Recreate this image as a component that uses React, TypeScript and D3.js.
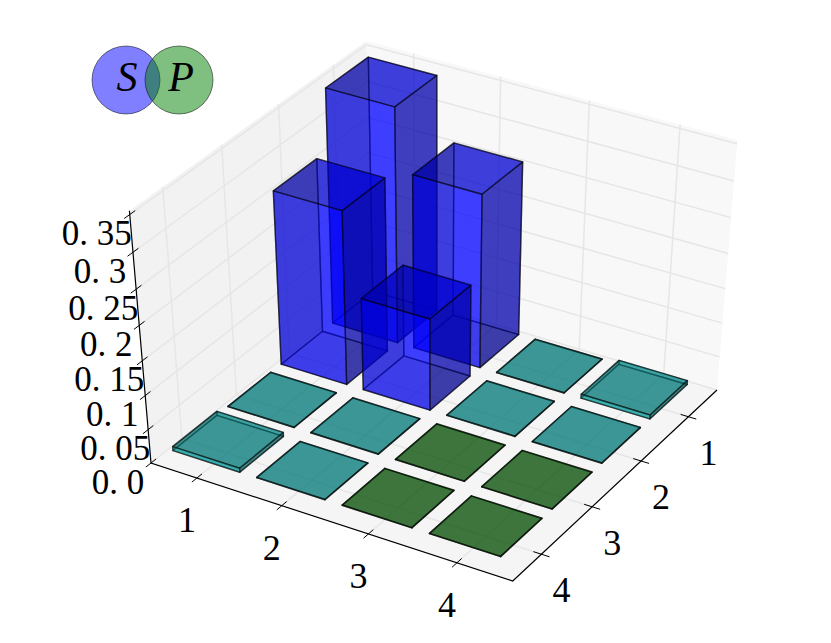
import * as d3 from "d3";

const xLabels = ["1", "2", "3", "4"];
const yLabels = ["1", "2", "3", "4"];
const zTicks = [0, 0.05, 0.1, 0.15, 0.2, 0.25, 0.3, 0.35];
const zLabels = ["0. 0", "0. 05", "0. 1", "0. 15", "0. 2", "0. 25", "0. 3", "0. 35"];

// heights per x label, one value per y label
const heightsX1 = [0.338, 0.252, 0.0005, 0.006];
const heightsX2 = [0.252, 0.135, 0.0005, 0.0005];
const heightsX3 = [0.0005, 0.0005, 0.0005, 0.0005];
const heightsX4 = [0.006, 0.0005, 0.0005, 0.0005];
const heights = [heightsX1, heightsX2, heightsX3, heightsX4];

const colorsX1 = ["#0000ff", "#0000ff", "#00a6a6", "#00a6a6"];
const colorsX2 = ["#0000ff", "#0000ff", "#00a6a6", "#00a6a6"];
const colorsX3 = ["#00a6a6", "#00a6a6", "#006900", "#006900"];
const colorsX4 = ["#00a6a6", "#00a6a6", "#006900", "#006900"];
const colors = [colorsX1, colorsX2, colorsX3, colorsX4];

const width = 831;
const height = 643;
const font = "'Liberation Serif', serif";

// camera, same maths as a mplot3d view
const elev = (40 * Math.PI) / 180;
const azim = (-59 * Math.PI) / 180;
const dist = 9;
const n = [Math.cos(elev) * Math.cos(azim), Math.cos(elev) * Math.sin(azim), Math.sin(elev)];
const u = [-n[1], n[0], 0].map((d) => d / Math.hypot(n[0], n[1]));
const v = [n[1] * u[2] - n[2] * u[1], n[2] * u[0] - n[0] * u[2], n[0] * u[1] - n[1] * u[0]];
const dot = (a: number[], b: number[]) => a[0] * b[0] + a[1] * b[1] + a[2] * b[2];

// raw view coordinates of a point in the unit cube
function view(px: number, py: number, pz: number) {
  const p = [px - 0.5, py - 0.5, pz - 0.5];
  const depth = dist - dot(n, p);
  return { vx: dot(u, p) / depth, vy: dot(v, p) / depth, depth };
}

// axes box: left floor corner, right floor corner, top of the back edge
const screenX = d3.scaleLinear().domain([view(0, 0, 0).vx, view(1, 1, 0).vx]).range([151, 717]);
const screenY = d3.scaleLinear().domain([view(0, 0, 0).vy, view(0, 1, 1).vy]).range([463, 41]);

// data to unit cube; the y axis runs from the far edge towards the viewer
const xMax = 4.17;
const yMax = 4.17;
const zMax = 0.355;
const unitX = d3.scaleLinear().domain([0, xMax]).range([0, 1]);
const unitY = d3.scaleLinear().domain([0, yMax]).range([1, 0]);
const unitZ = d3.scaleLinear().domain([0, zMax]).range([0, 1]);
const xTickAt = (i: number) => i + 0.55;
const yTickAt = (i: number) => i + 0.62;
const barStartX = 0.055;
const barStartY = 0.06;
const barSize = 0.8;

function project(x: number, y: number, z: number) {
  const p = view(unitX(x), unitY(y), unitZ(z));
  return { sx: screenX(p.vx), sy: screenY(p.vy), depth: p.depth };
}

const line = d3.line();
const path3d = (pts: number[][], close = false) =>
  line(pts.map(([x, y, z]) => {
    const p = project(x, y, z);
    return [p.sx, p.sy] as [number, number];
  })) + (close ? "Z" : "");

function shaded(color: string, k: number) {
  const c = d3.rgb(color);
  return d3.rgb(c.r * k, c.g * k, c.b * k).formatRgb();
}

const faces: { d: string; fill: string; depth: number }[] = [];
heights.forEach((row, i) =>
  row.forEach((h, j) => {
    const x0 = i + barStartX;
    const x1 = x0 + barSize;
    const y0 = j + barStartY;
    const y1 = y0 + barSize;
    const quads: [number[][], number][] = [
      [[[x0, y1, 0], [x1, y1, 0], [x1, y1, h], [x0, y1, h]], 1],
      [[[x0, y0, 0], [x1, y0, 0], [x1, y0, h], [x0, y0, h]], 1],
      [[[x0, y0, 0], [x0, y1, 0], [x0, y1, h], [x0, y0, h]], 0.5],
      [[[x1, y0, 0], [x1, y1, 0], [x1, y1, h], [x1, y0, h]], 0.5],
      [[[x0, y0, h], [x1, y0, h], [x1, y1, h], [x0, y1, h]], 0.72],
      [[[x0, y0, 0], [x1, y0, 0], [x1, y1, 0], [x0, y1, 0]], 0.7],
    ];
    quads.forEach(([pts, k]) =>
      faces.push({
        d: path3d(pts, true),
        fill: shaded(colors[i][j], k),
        depth: d3.mean(pts, (p) => project(p[0], p[1], p[2]).depth) as number,
      })
    );
  })
);
faces.sort((a, b) => d3.descending(a.depth, b.depth));

export default function App() {
  const gridX = xLabels.map((_, i) =>
    path3d([[xTickAt(i), yMax, 0], [xTickAt(i), 0, 0], [xTickAt(i), 0, zMax]])
  );
  const gridY = yLabels.map((_, i) =>
    path3d([[xMax, yTickAt(i), 0], [0, yTickAt(i), 0], [0, yTickAt(i), zMax]])
  );
  const gridZ = zTicks.map((z) => path3d([[0, yMax, z], [0, 0, z], [xMax, 0, z]]));

  return (
    <svg width={width} height={height} style={{ position: "absolute", left: 0, top: 0 }}>
      <rect width={width} height={height} fill="#fff" />
      <path d={path3d([[0, 0, 0], [0, yMax, 0], [0, yMax, zMax], [0, 0, zMax]], true)} fill="#f2f2f2" />
      <path d={path3d([[0, 0, 0], [xMax, 0, 0], [xMax, 0, zMax], [0, 0, zMax]], true)} fill="#f8f8f8" />
      <path d={path3d([[0, 0, 0], [xMax, 0, 0], [xMax, yMax, 0], [0, yMax, 0]], true)} fill="#f5f5f5" />
      {[...gridX, ...gridY, ...gridZ].map((d, i) => (
        <path key={i} d={d} fill="none" stroke="#e6e6e6" strokeWidth={1.5} />
      ))}

      {faces.map((f, i) => (
        <path key={i} d={f.d} fill={f.fill} fillOpacity={0.5} stroke="#000" strokeOpacity={0.5} strokeWidth={1.4} strokeLinejoin="round" />
      ))}

      <path
        d={path3d([[0, yMax, zMax], [0, yMax, 0], [xMax, yMax, 0], [xMax, 0, 0]])}
        fill="none"
        stroke="#000"
        strokeWidth={1.2}
      />
      {zTicks.map((z, i) => {
        const t = project(0, yMax, z);
        return (
          <g key={i}>
            <path d={path3d([[0, yMax - 0.09, z], [0, yMax + 0.09, z]])} stroke="#000" strokeWidth={1} />
            <text x={t.sx - 33} y={t.sy + 19} textAnchor="middle" dominantBaseline="central" fontFamily={font} fontSize={35}>
              {zLabels[i]}
            </text>
          </g>
        );
      })}
      {xLabels.map((s, i) => {
        const t = project(xTickAt(i), yMax, 0);
        return (
          <g key={i}>
            <path d={path3d([[xTickAt(i), yMax - 0.09, 0], [xTickAt(i), yMax + 0.09, 0]])} stroke="#000" strokeWidth={1} />
            <text x={t.sx - 10} y={t.sy + 42} textAnchor="middle" dominantBaseline="central" fontFamily={font} fontSize={36}>
              {s}
            </text>
          </g>
        );
      })}
      {yLabels.map((s, i) => {
        const t = project(xMax, yTickAt(i), 0);
        return (
          <g key={i}>
            <path d={path3d([[xMax - 0.09, yTickAt(i), 0], [xMax + 0.09, yTickAt(i), 0]])} stroke="#000" strokeWidth={1} />
            <text x={t.sx + 20} y={t.sy + 36} textAnchor="middle" dominantBaseline="central" fontFamily={font} fontSize={36}>
              {s}
            </text>
          </g>
        );
      })}

      <circle cx={126} cy={80} r={34} fill="#0000ff" fillOpacity={0.5} stroke="#000" strokeOpacity={0.5} />
      <circle cx={179} cy={80} r={34} fill="#008000" fillOpacity={0.5} stroke="#000" strokeOpacity={0.5} />
      <text x={127} y={77} textAnchor="middle" dominantBaseline="central" fontFamily={font} fontStyle="italic" fontSize={42}>S</text>
      <text x={181} y={77} textAnchor="middle" dominantBaseline="central" fontFamily={font} fontStyle="italic" fontSize={42}>P</text>
    </svg>
  );
}
